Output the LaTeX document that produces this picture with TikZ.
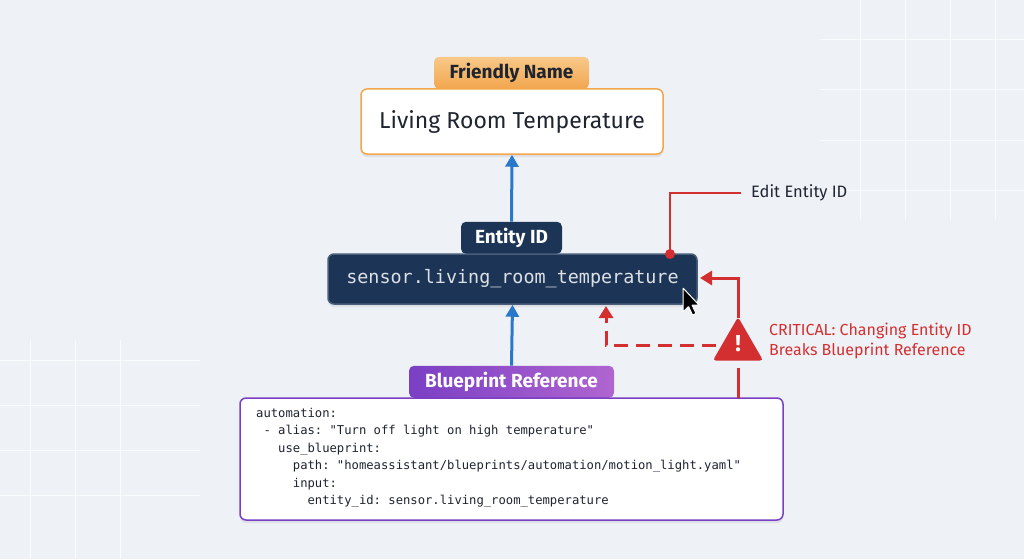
\documentclass[tikz,border=0pt]{standalone}
\usepackage{fontspec}
\setmainfont{Liberation Sans}
\newfontfamily\uif{Fira Sans}
\newfontfamily\codef{DejaVu Sans Mono}
\usetikzlibrary{arrows.meta,shadows,shapes.geometric}
\definecolor{bg}{HTML}{EEF2F7}
\definecolor{orng}{HTML}{F2A64E}
\definecolor{orngl}{HTML}{F8C98A}
\definecolor{navy}{HTML}{1C3557}
\definecolor{blu}{HTML}{2A78C9}
\definecolor{purp}{HTML}{7A3FC4}
\definecolor{purpl}{HTML}{B065D0}
\definecolor{redc}{HTML}{D42F30}
\definecolor{txt}{HTML}{1E2430}
\frenchspacing
\begin{document}
\begin{tikzpicture}[x=1pt,y=-1pt,
  tab/.style={rounded corners=5pt,inner sep=0pt,minimum height=32pt,anchor=south,font=\uif\fontsize{19}{22}\selectfont\bfseries},
  box/.style={rounded corners=6pt,line width=1.5pt,drop shadow={opacity=0.15,shadow xshift=0pt,shadow yshift=-3pt}},
  up/.style={-{Triangle[length=12pt,width=13pt]},line width=3pt,blu},
  rl/.style={redc,line width=3pt}]
\fill[bg] (0,0) rectangle (1024,559);
\useasboundingbox (0,0) rectangle (1024,559);
\foreach \x in {860,905,950,995} \draw[white,line width=1pt,opacity=0.7] (\x,0) -- (\x,220);
\foreach \y in {40,90,140,190} \draw[white,line width=1pt,opacity=0.7] (820,\y) -- (1024,\y);
\foreach \x in {30,75,120} \draw[white,line width=1pt,opacity=0.7] (\x,340) -- (\x,559);
\foreach \y in {360,405,450,495} \draw[white,line width=1pt,opacity=0.7] (0,\y) -- (200,\y);
% Friendly name
\node[tab,top color=orngl,bottom color=orng,text=txt,minimum width=155pt] (fnt) at (511.5,89) {Friendly Name};
\node[box,draw=orng,fill=white,minimum width=302pt,minimum height=65pt,font=\uif\fontsize{23}{27}\selectfont,text=txt] (fn) at (512,121.5) {Living Room Temperature};
% Entity ID
\node[tab,fill=navy,text=white,minimum width=101pt] (eit) at (511.5,254) {Entity ID};
\node[box,draw=navy!80,fill=navy,minimum width=369pt,minimum height=50pt,font=\codef\fontsize{18.4}{22}\selectfont,text=white!85!navy] (ei) at (512.5,279) {sensor.living\_room\_temperature};
% Blueprint
\node[tab,left color=purp,right color=purpl,text=white,minimum width=205pt] (bpt) at (511.5,398) {Blueprint Reference};
\node[box,draw=purp,fill=white,minimum width=543pt,minimum height=122pt] (bp) at (511.5,459) {};
\node[anchor=north west,inner sep=0pt,font=\codef\fontsize{12.2}{17.5}\selectfont,text=txt,align=left] (code) at (256,408) {automation:\\
\ - alias: "Turn off light on high temperature"\\
\ \ \ use\_blueprint:\\
\ \ \ \ \ path: "homeassistant/blueprints/automation/motion\_light.yaml"\\
\ \ \ \ \ input:\\
\ \ \ \ \ \ \ entity\_id: sensor.living\_room\_temperature};
% blue arrows
\draw[up] (eit.north) -- (fn.south);
\draw[up] (bpt.north) -- (ei.south);
% edit entity id
\coordinate (dot) at (670,254);
\node[anchor=west,font=\uif\fontsize{16.5}{19}\selectfont,text=txt,inner sep=0pt] (edit) at (751,193) {Edit Entity ID};
\draw[redc,line width=2pt] (dot) |- ([xshift=-10pt]edit.west);
\fill[redc] (dot) circle (5pt);
% warning
\node[regular polygon,regular polygon sides=3,fill=redc,rounded corners=3pt,minimum size=58pt,inner sep=0pt] (warn) at (738,346) {};
\node[white,font=\uif\bfseries\fontsize{23}{23}\selectfont] at (738,344) {!};
\coordinate (bptop) at (738,398);
\coordinate (w1) at (738,368);
\coordinate (w2) at (738,318);
\coordinate (tip1) at (700,278);
\coordinate (tip2) at (606,306);
\draw[rl] (bptop) -- (w1);
\draw[rl,-{Triangle[length=12pt,width=14pt]}] (w2) |- (tip1);
\draw[rl,dashed,dash pattern=on 14pt off 8pt,-{Triangle[length=12pt,width=14pt]}] (716,345) -| (tip2);
\node[anchor=west,align=left,text=redc,font=\uif\fontsize{16}{20}\selectfont,inner sep=0pt] (crit) at (769,341) {CRITICAL: Changing Entity ID\\Breaks Blueprint Reference};
% cursor
\draw[fill=black,draw=white,line width=1pt,rounded corners=0.5pt] (683,288) -- (683,312) -- (688.5,306.5) -- (692.5,315) -- (696,313.5) -- (692,305) -- (699,305) -- cycle;
\end{tikzpicture}
\end{document}
